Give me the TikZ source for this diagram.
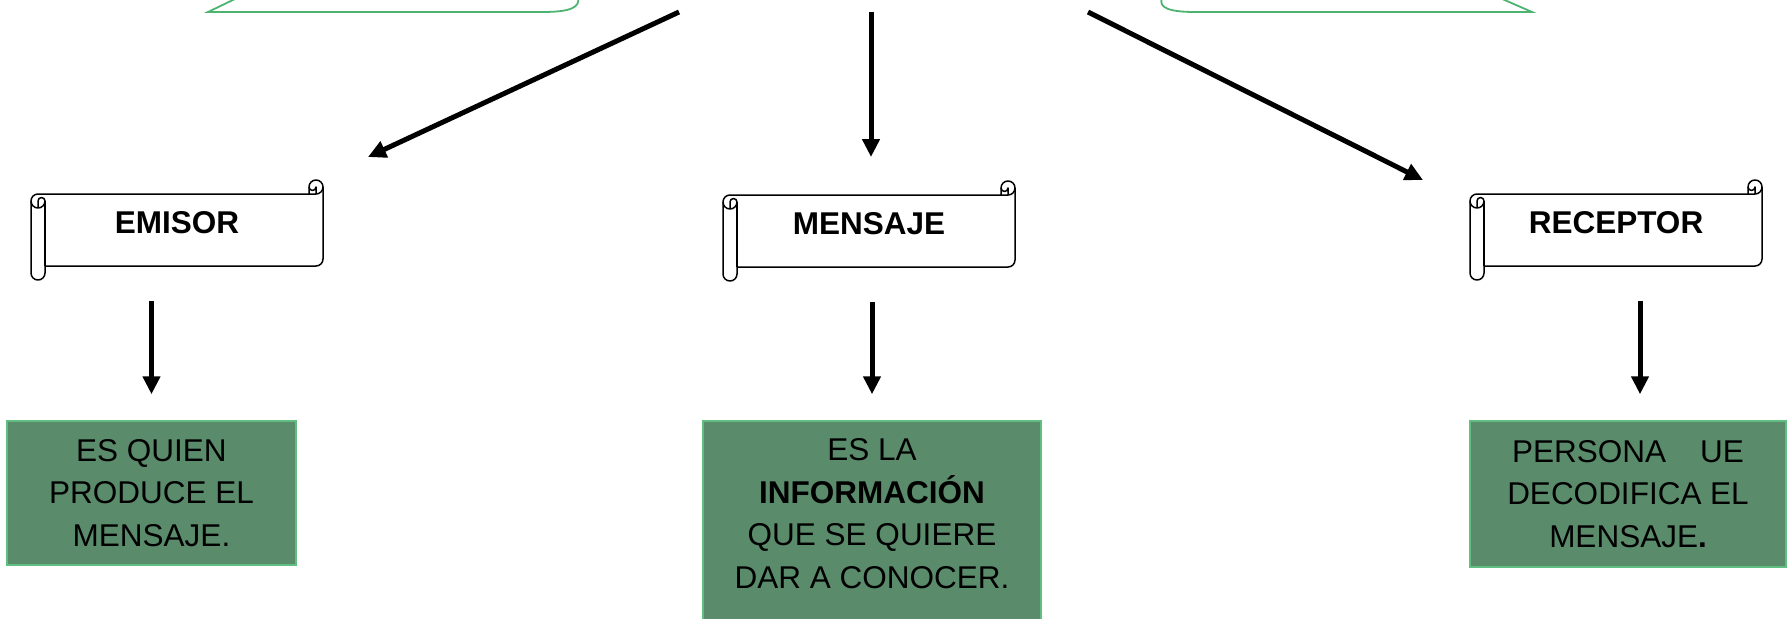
\documentclass[tikz,border=0pt]{standalone}
\usepackage{fontspec}
\setmainfont{Liberation Sans}
\usepackage{xcolor}
\usepackage{tikz}
\usetikzlibrary{arrows.meta}
\definecolor{verdecaja}{RGB}{90,140,108}
\definecolor{bordecaja}{RGB}{95,190,128}
\definecolor{verdeforma}{RGB}{76,180,112}

\begin{document}
\begin{tikzpicture}[x=1pt,y=-1pt,
	flecha/.style={line width=5pt,-{Triangle[length=18pt,width=17pt]}},
	pergamino/.style={line width=1.5pt,line join=round},
	titulo/.style={minimum width=292pt,minimum height=100pt,inner sep=0pt,text height=23pt,text depth=17pt,font=\fontsize{31.5}{38}\selectfont\bfseries},
	caja/.style={fill=verdecaja,draw=bordecaja,line width=1.5pt,align=center,inner sep=0pt,font=\fontsize{31.5}{42.5}\selectfont},
	forma/.style={draw=verdeforma,line width=1.8pt}]
			\useasboundingbox (0,0) rectangle (1787,618);
			% Formas de arriba (cortadas)
			\draw[forma] (237,-2) -- (208,12) -- (543,12) .. controls (571,12) and (580,7) .. (578,-2);
			\draw[forma] (1162,-2) .. controls (1158,8) and (1170,12) .. (1195,12) -- (1532,12) -- (1500,-2);
			% Pergaminos
			\foreach \nombre/\xl/\yt/\texto in {emisor/31/180/EMISOR, mensaje/723/181/MENSAJE, receptor/1470/180/RECEPTOR}
			{
			\draw[pergamino,fill=white] (\xl,{\yt+21}) arc[start angle=180,end angle=270,radius=7] -- ({\xl+278},{\yt+14}) -- ({\xl+278},{\yt+7}) arc[start angle=180,end angle=360,radius=7] -- ({\xl+292},{\yt+79}) arc[start angle=0,end angle=90,radius=7] -- ({\xl+14},{\yt+86}) -- ({\xl+14},{\yt+93}) arc[start angle=0,end angle=180,radius=7] -- cycle;
			\draw[pergamino] ({\xl+278},{\yt+14}) -- ({\xl+285},{\yt+14}) arc[start angle=90,end angle=0,radius=7];
			\draw[pergamino] ({\xl+285},{\yt+14}) -- ({\xl+285},{\yt+7}) arc[start angle=0,end angle=180,radius=3.5];
			\draw[pergamino] ({\xl+7},{\yt+28}) -- ({\xl+7},{\yt+21}) arc[start angle=180,end angle=360,radius=3.5] arc[start angle=0,end angle=180,radius=7];
			\draw[pergamino] ({\xl+14},{\yt+21}) -- ({\xl+14},{\yt+86});
			\node[titulo] (\nombre) at ({\xl+146},{\yt+50}) {\texto};
			}
			% Cajas verdes
			\node[caja,minimum width=289pt,minimum height=144pt] (emisorcaja) at (151.5,493) {ES QUIEN\\PRODUCE EL\\MENSAJE.};
			\node[caja,minimum width=338pt,minimum height=200pt,text depth=15pt] (mensajecaja) at (872,521) {ES LA\\\textbf{INFORMACIÓN}\\QUE SE QUIERE\\DAR A CONOCER.};
			\node[caja,minimum width=316pt,minimum height=146pt] (receptorcaja) at (1628,494) {PERSONA\hspace{34pt}UE\\DECODIFICA EL\\MENSAJE\textbf{.}};
			% Flechas de arriba
			\coordinate (sal1) at (679,12);
			\coordinate (lle1) at (368,157);
			\coordinate (sal2) at (871,12);
			\coordinate (lle2) at (871,157);
			\coordinate (sal3) at (1088,12);
			\coordinate (lle3) at (1423,180);
			\draw[flecha] (sal1) -- (lle1);
			\draw[flecha] (sal2) -- (lle2);
			\draw[flecha] (sal3) -- (lle3);
			% Flechas de abajo
			\coordinate (rflecha) at ([xshift=12pt]receptorcaja.north);
			\draw[flecha,shorten <=21pt,shorten >=26pt] (emisor.south -| emisorcaja.north) -- (emisorcaja.north);
			\draw[flecha,shorten <=21pt,shorten >=26pt] (mensaje.south -| mensajecaja.north) -- (mensajecaja.north);
			\draw[flecha,shorten <=21pt,shorten >=26pt] (receptor.south -| rflecha) -- (rflecha);
\end{tikzpicture}
\end{document}
